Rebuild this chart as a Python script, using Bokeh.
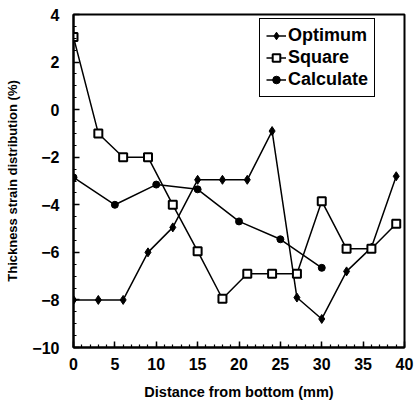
from bokeh.plotting import figure
from bokeh.models import Range1d, SingleIntervalTicker, Legend, LegendItem
from bokeh.embed import file_html
from bokeh.resources import INLINE

# Data
opt_x = [0, 3, 6, 9, 12, 15, 18, 21, 24, 27, 30, 33, 36, 39]
opt_y = [-8.0, -8.0, -8.0, -6.0, -4.95, -2.95, -2.95, -2.95, -0.9, -7.9, -8.8, -6.8, -5.8, -2.8]

sq_x = [0, 3, 6, 9, 12, 15, 18, 21, 24, 27, 30, 33, 36, 39]
sq_y = [3.05, -1.0, -2.0, -2.0, -4.0, -5.95, -7.95, -6.9, -6.9, -6.9, -3.85, -5.85, -5.85, -4.8]

calc_x = [0, 5, 10, 15, 20, 25, 30]
calc_y = [-2.85, -4.0, -3.15, -3.35, -4.7, -5.45, -6.65]

FONT = "Liberation Sans"

p = figure(width=420, height=404, output_backend="svg", toolbar_location=None,
           x_range=Range1d(0, 40), y_range=Range1d(-10, 4),
           min_border_left=73, min_border_right=16, min_border_top=14, min_border_bottom=57)
p.background_fill_color = "white"
p.border_fill_color = "white"
p.grid.visible = False
p.outline_line_color = "black"
p.outline_line_width = 2
p.outline_line_alpha = 1.0

# series
l1 = p.line(opt_x, opt_y, line_color="black", line_width=1.5)
m1 = p.scatter(opt_x, opt_y, marker="diamond", size=9, fill_color="black", line_color="black")
l2 = p.line(sq_x, sq_y, line_color="black", line_width=1.5)
m2 = p.scatter(sq_x, sq_y, marker="square", size=8, fill_color="white", line_color="black", line_width=2)
l3 = p.line(calc_x, calc_y, line_color="black", line_width=1.5)
m3 = p.scatter(calc_x, calc_y, marker="circle", size=7, fill_color="black", line_color="black")

# axes
p.xaxis.ticker = SingleIntervalTicker(interval=5, num_minor_ticks=5)
p.yaxis.ticker = SingleIntervalTicker(interval=2, num_minor_ticks=4)
for ax in (p.xaxis[0], p.yaxis[0]):
    ax.axis_line_color = "black"
    ax.axis_line_width = 2
    ax.major_tick_in = 6
    ax.major_tick_out = 0
    ax.minor_tick_in = 3
    ax.minor_tick_out = 0
    ax.major_tick_line_width = 1.5
    ax.minor_tick_line_width = 1.2
    ax.major_tick_line_color = "black"
    ax.minor_tick_line_color = "black"
    ax.major_label_text_font = FONT
    ax.major_label_text_font_style = "bold"
    ax.major_label_text_font_size = "16px"
    ax.major_label_text_color = "black"
    ax.axis_label_text_font = FONT
    ax.axis_label_text_font_style = "bold"
    ax.axis_label_text_color = "black"

p.xaxis.axis_label = "Distance from bottom (mm)"
p.xaxis.axis_label_text_font_size = "14.5px"
p.xaxis.major_label_standoff = 10
p.xaxis.axis_label_standoff = 11
p.yaxis.axis_label = "Thickness strain distribution (%)"
p.yaxis.axis_label_text_font_size = "13px"
p.yaxis.major_label_standoff = 14
p.yaxis.axis_label_standoff = 9

legend = Legend(items=[
    LegendItem(label="Optimum", renderers=[l1, m1]),
    LegendItem(label="Square", renderers=[l2, m2]),
    LegendItem(label="Calculate", renderers=[l3, m3]),
], location=(186, 250))
legend.label_text_font = FONT
legend.label_text_font_style = "bold"
legend.label_text_font_size = "18px"
legend.label_text_color = "black"
legend.glyph_width = 20
legend.glyph_height = 19
legend.label_height = 19
legend.label_standoff = 2
legend.spacing = 1
legend.padding = 6
legend.margin = 0
legend.border_line_color = "black"
legend.border_line_width = 1.5
legend.border_line_alpha = 1.0
legend.background_fill_color = "white"
legend.background_fill_alpha = 1.0
p.add_layout(legend, "center")

open("out.html", "w").write(file_html(p, INLINE))
